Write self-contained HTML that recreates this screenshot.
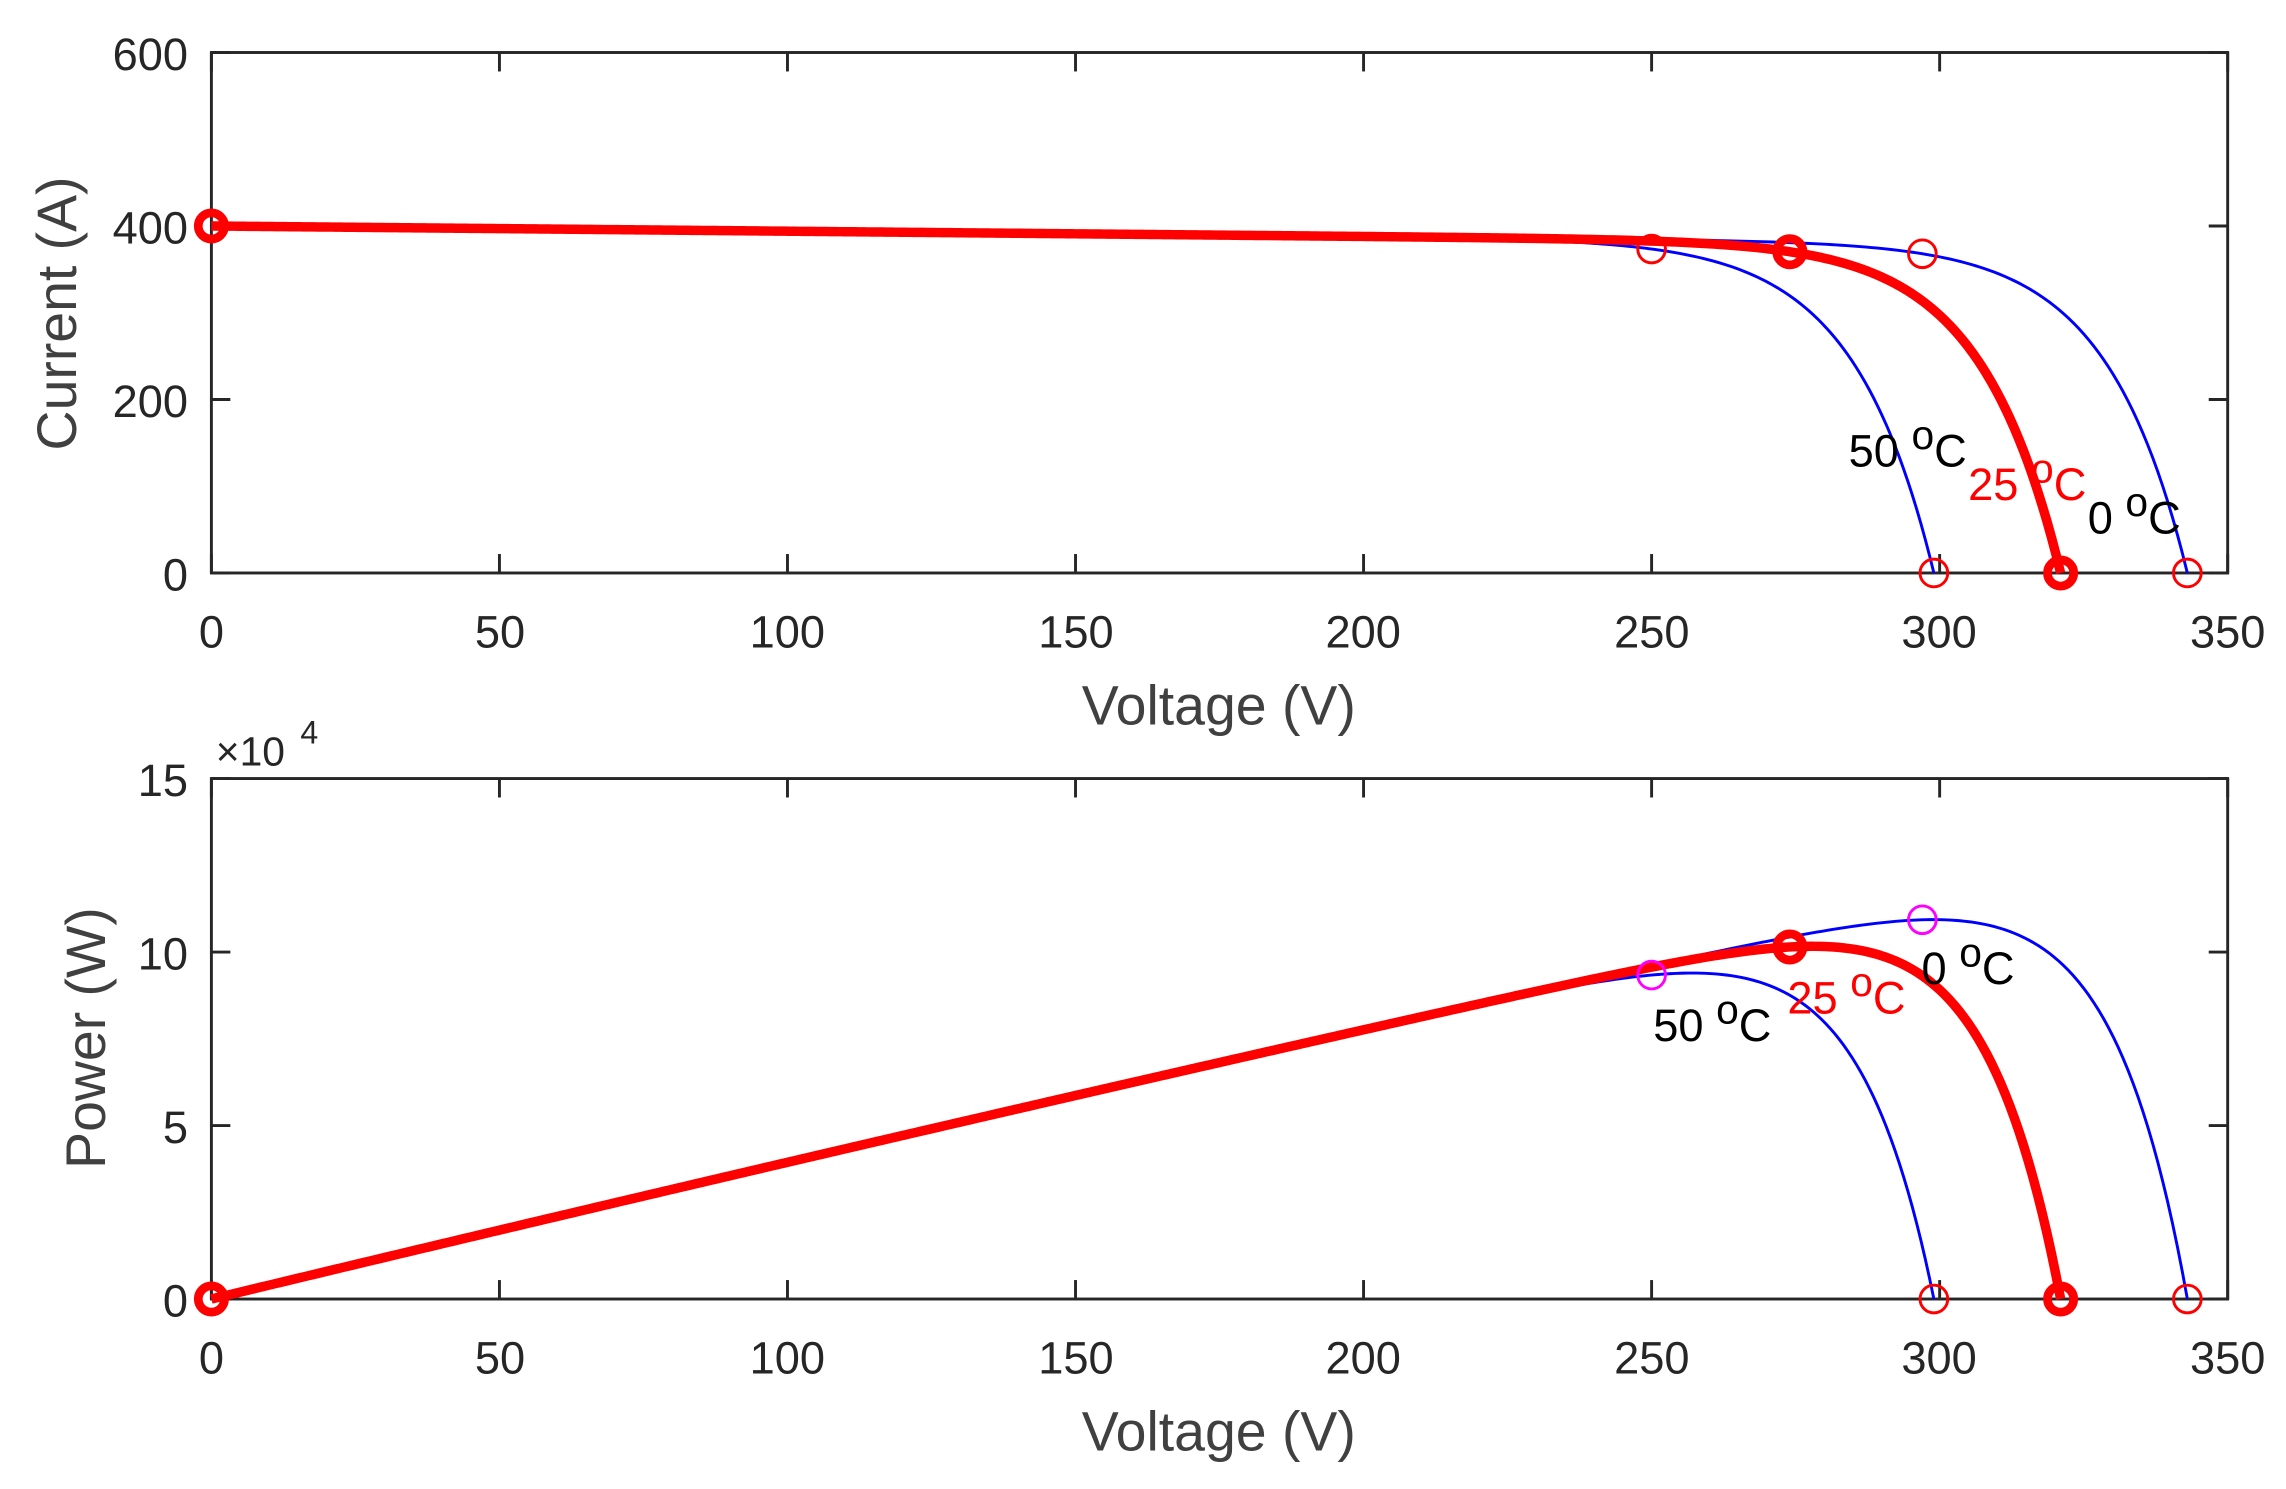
<!DOCTYPE html>
<html><head><meta charset="utf-8"><style>
html,body{margin:0;padding:0;background:#fff}
svg{display:block}
text{font-family:"Liberation Sans",sans-serif}
</style></head><body>
<svg id="s" width="2286" height="1489" viewBox="0 0 1568 1021.3" xmlns="http://www.w3.org/2000/svg">
<rect width="1568" height="1022" fill="#fff"/>
<g id="g"></g>
<g fill="#262626" font-size="31">
<text x="129" y="48" text-anchor="end">600</text>
<text x="129" y="167" text-anchor="end">400</text>
<text x="129" y="286" text-anchor="end">200</text>
<text x="129" y="405" text-anchor="end">0</text>
<g text-anchor="middle">
<text x="145" y="444">0</text><text x="343" y="444">50</text><text x="540" y="444">100</text><text x="738" y="444">150</text><text x="935" y="444">200</text><text x="1133" y="444">250</text><text x="1330" y="444">300</text><text x="1528" y="444">350</text>
</g>
<text x="129" y="546" text-anchor="end">15</text>
<text x="129" y="665" text-anchor="end">10</text>
<text x="129" y="784" text-anchor="end">5</text>
<text x="129" y="903" text-anchor="end">0</text>
<g text-anchor="middle">
<text x="145" y="942">0</text><text x="343" y="942">50</text><text x="540" y="942">100</text><text x="738" y="942">150</text><text x="935" y="942">200</text><text x="1133" y="942">250</text><text x="1330" y="942">300</text><text x="1528" y="942">350</text>
</g>
<text x="148" y="525" font-size="28">×10</text><text x="206" y="510" font-size="22">4</text>
</g>
<g fill="#404040" font-size="38" text-anchor="middle">
<text x="836" y="497">Voltage (V)</text>
<text x="836" y="995">Voltage (V)</text>
<text transform="translate(52,215) rotate(-90)">Current (A)</text>
<text transform="translate(72,712) rotate(-90)">Power (W)</text>
</g>
<g font-size="31">
<text x="1268" y="320">50 <tspan font-size="28" dy="-12">o</tspan><tspan dy="12">C</tspan></text>
<text x="1350" y="343" fill="#f00">25 <tspan font-size="28" dy="-12">o</tspan><tspan dy="12">C</tspan></text>
<text x="1432" y="366">0 <tspan font-size="28" dy="-12">o</tspan><tspan dy="12">C</tspan></text>
<text x="1318" y="675">0 <tspan font-size="28" dy="-12">o</tspan><tspan dy="12">C</tspan></text>
<text x="1226" y="695" fill="#f00">25 <tspan font-size="28" dy="-12">o</tspan><tspan dy="12">C</tspan></text>
<text x="1134" y="714">50 <tspan font-size="28" dy="-12">o</tspan><tspan dy="12">C</tspan></text>
</g>
</svg>
<script>
var g=document.getElementById('g'),ns='http://www.w3.org/2000/svg';
function el(t,a){var e=document.createElementNS(ns,t);for(var k in a)e.setAttribute(k,a[k]);g.appendChild(e);return e;}
var X=function(v){return 145+v*(1383/350);};
var Yt=function(i){return 393-i*(357/600);};
var Yb=function(p){return 891-p*(357/150000);};
var a=14;
function I(v,voc){var D=400-0.06*voc;return 400-0.06*v-D*Math.exp((v-voc)/a);}
function path(voc,Y,pw){var d='';for(var v=0;v<=voc+0.001;v+=voc/400){var i=Math.max(0,I(v,voc));var y=pw?Y(v*i):Y(i);d+=(d?'L':'M')+X(v).toFixed(2)+','+y.toFixed(2);}return d;}
function axes(top,bot,yt){
 el('rect',{x:145,y:top,width:1383,height:bot-top,fill:'none',stroke:'#262626','stroke-width':2});
 for(var k=0;k<=7;k++){var x=X(k*50);el('line',{x1:x,y1:bot,x2:x,y2:bot-13,stroke:'#262626','stroke-width':2});el('line',{x1:x,y1:top,x2:x,y2:top+13,stroke:'#262626','stroke-width':2});}
 for(var j=0;j<yt.length;j++){var y=yt[j];el('line',{x1:145,y1:y,x2:158,y2:y,stroke:'#262626','stroke-width':2});el('line',{x1:1528,y1:y,x2:1515,y2:y,stroke:'#262626','stroke-width':2});}
}
axes(36,393,[36,155,274,393]);
axes(534,891,[534,653,772,891]);
var vocs=[299,343],mpp={299:250,343:297,321:274};
[[Yt,false],[Yb,true]].forEach(function(c){
 var Y=c[0],pw=c[1];
 vocs.forEach(function(voc){el('path',{d:path(voc,Y,pw),fill:'none',stroke:'#00f','stroke-width':2});});
 el('path',{d:path(321,Y,pw),fill:'none',stroke:'#f00','stroke-width':6.5,'stroke-linejoin':'round'});
 vocs.forEach(function(voc){
  el('circle',{cx:X(voc),cy:Y(0),r:9.5,fill:'none',stroke:'#f00','stroke-width':2});
  var m=mpp[voc],i=I(m,voc);
  el('circle',{cx:X(m),cy:pw?Y(m*i):Y(i),r:9.5,fill:'none',stroke:pw?'#f0f':'#f00','stroke-width':2});
 });
 var m=274,i=I(m,321);
 [[0,pw?0:I(0,321)],[m,pw?m*i:i],[321,0]].forEach(function(p){
  el('circle',{cx:X(p[0]),cy:Y(p[1]),r:9,fill:'none',stroke:'#f00','stroke-width':6});
 });
});
</script>
</body></html>
